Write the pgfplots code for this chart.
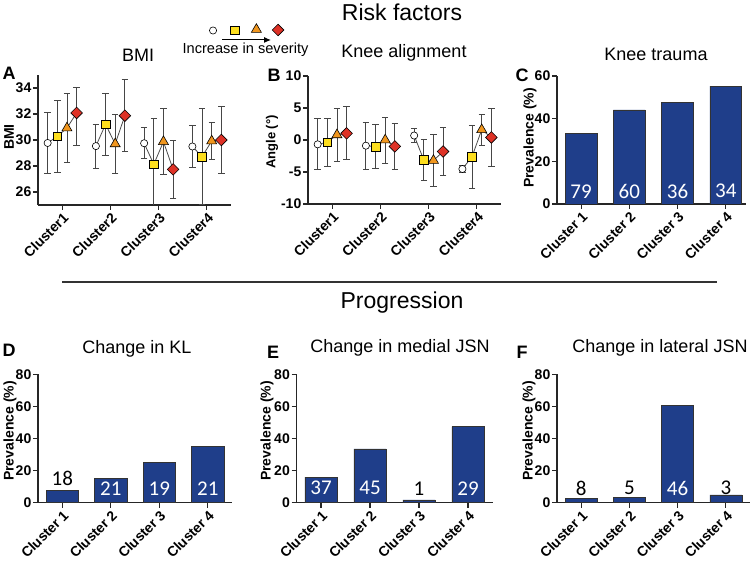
\documentclass[border=0pt]{standalone}
\usepackage{fontspec}
\setmainfont{Liberation Sans}
\newfontfamily\numfont{Carlito}
\usepackage{pgfplots}
\pgfplotsset{compat=1.18}
\usetikzlibrary{arrows.meta}
\definecolor{barblue}{RGB}{31,62,138}
\definecolor{sqyellow}{RGB}{253,222,30}
\definecolor{triorange}{RGB}{240,150,30}
\definecolor{dired}{RGB}{222,50,38}
\definecolor{errgray}{RGB}{70,70,70}
\newcommand{\fs}[1]{\fontsize{#1}{#1}\selectfont}

\pgfplotsset{
  panel/.style={
    scale only axis, anchor=south west,
    axis lines=left,
    axis line style={-, line width=1.3pt, black!85},
    tick align=outside, major tick length=5pt,
    xtick pos=bottom, ytick pos=left,
    tick style={line width=1.1pt, black!85},
    xtick={1,2,3,4}, xmin=0.5, xmax=4.5,
    /pgf/number format/assume math mode=true,
    ticklabel style={font=\bfseries\fs{14}},
    xticklabel style={rotate=45, anchor=north east, inner sep=1pt},
    yticklabel style={inner sep=1.5pt},
  },
  scat/.style={panel, xticklabels={Cluster1,Cluster2,Cluster3,Cluster4}},
  eb/.style={
    error bars/y dir=both, error bars/y explicit,
    error bars/error bar style={errgray, line width=0.9pt},
    error bars/error mark options={rotate=90, mark size=3.2pt, line width=0.9pt, errgray}},
  barp/.style={panel, xticklabels={Cluster 1,Cluster 2,Cluster 3,Cluster 4}, ymin=0},
  bars/.style={ybar, bar width=0.66, fill=barblue, draw=black!80, line width=0.5pt},
  lab/.style={draw=none, mark=none, nodes near coords={\pgfplotspointmeta},
    point meta=explicit symbolic,
    every node near coord/.style={anchor=center, font=\numfont\fs{21}, text=#1}},
  sev0/.style={only marks, mark=*, mark size=3.6pt, mark options={fill=white, draw=black, line width=0.6pt}},
  sev1/.style={only marks, mark=square*, mark size=4.3pt, mark options={fill=sqyellow, draw=black, line width=0.6pt}},
  sev2/.style={only marks, mark=triangle*, mark size=5.8pt, mark options={fill=triorange, draw=black, line width=0.6pt}},
  sev3/.style={only marks, mark=square*, mark size=4.1pt, mark options={rotate=45, fill=dired, draw=black, line width=0.6pt}},
  conn/.style={black!70, line width=0.8pt, mark=none},
}

\begin{document}
\begin{tikzpicture}
\path[use as bounding box] (0,0) rectangle (755pt,561pt);

%% A: BMI
\begin{axis}[scat, at={(38pt,356pt)}, width=193pt, height=130pt,
  ymin=25, ymax=35, ytick={26,28,30,32,34}]
\addplot[conn] coordinates {(0.7,29.77)(0.9,30.28)(1.1,30.92)(1.3,32.08)};
\addplot[conn] coordinates {(1.7,29.53)(1.9,31.2)(2.1,29.7)(2.3,31.87)};
\addplot[conn] coordinates {(2.7,29.75)(2.9,28.13)(3.1,29.87)(3.3,27.74)};
\addplot[conn] coordinates {(3.7,29.5)(3.9,28.72)(4.1,29.92)(4.3,30.0)};
\addplot[sev0, eb] coordinates {(0.7,29.77) +- (0,2.38) (1.7,29.53) +- (0,1.7) (2.7,29.75) +- (0,1.2) (3.7,29.5) +- (0,1.6)};
\addplot[sev1, eb] coordinates {(0.9,30.28) +- (0,2.8) (1.9,31.2) +- (0,2.4) (2.9,28.13) +- (0,3.5) (3.9,28.72) +- (0,3.7)};
\addplot[sev2, eb] coordinates {(1.1,30.92) +- (0,2.65) (2.1,29.7) +- (0,2.25) (3.1,29.87) +- (0,2.55) (4.1,29.92) +- (0,1.45)};
\addplot[sev3, eb] coordinates {(1.3,32.08) += (0,2.0) -= (0,2.5) (2.3,31.87) +- (0,2.75) (3.3,27.74) +- (0,2.2) (4.3,30.0) +- (0,2.55)};
\end{axis}

%% B: knee alignment
\begin{axis}[scat, at={(308pt,357pt)}, width=193pt, height=128pt,
  ymin=-10, ymax=10, ytick={-10,-5,0,5,10}]
\addplot[conn] coordinates {(0.7,-0.68)(0.9,-0.36)(1.1,0.8)(1.3,1.04)};
\addplot[conn] coordinates {(1.7,-0.89)(1.9,-1.04)(2.1,0.0)(2.3,-1.0)};
\addplot[conn] coordinates {(2.7,0.7)(2.9,-3.13)(3.1,-3.2)(3.3,-1.8)};
\addplot[conn] coordinates {(3.7,-4.53)(3.9,-2.6)(4.1,1.6)(4.3,0.4)};
\addplot[sev0, eb] coordinates {(0.7,-0.68) +- (0,4.0) (1.7,-0.89) +- (0,3.65) (2.7,0.7) +- (0,1.15) (3.7,-4.53) +- (0,0.6)};
\addplot[sev1, eb] coordinates {(0.9,-0.36) +- (0,3.8) (1.9,-1.04) +- (0,3.4) (2.9,-3.13) +- (0,3.2) (3.9,-2.6) +- (0,4.9)};
\addplot[sev2, eb] coordinates {(1.1,0.8) +- (0,4.2) (2.1,0.0) +- (0,3.6) (3.1,-3.2) +- (0,4.1) (4.1,1.6) +- (0,2.45)};
\addplot[sev3, eb] coordinates {(1.3,1.04) +- (0,4.15) (2.3,-1.0) +- (0,3.6) (3.3,-1.8) +- (0,3.8) (4.3,0.4) +- (0,4.5)};
\end{axis}

%% C: knee trauma
\begin{axis}[barp, at={(557pt,357pt)}, width=189pt, height=128pt,
  xmax=4.42, ymax=60, ytick={0,20,40,60}]
\addplot[bars] coordinates {(1,33.0)(2,44.1)(3,47.7)(4,55.3)};
\addplot[lab=white] coordinates {(1,6)[79] (2,6)[60] (3,6)[36] (4,6)[34]};
\end{axis}

%% D: change in KL
\begin{axis}[barp, at={(38pt,58.3pt)}, width=194pt, height=128.4pt,
  ymax=80, ytick={0,20,40,60,80}]
\addplot[bars] coordinates {(1,7.5)(2,15.0)(3,24.9)(4,35.1)};
\addplot[lab=black] coordinates {(1,15.4)[18]};
\addplot[lab=white] coordinates {(2,9)[21] (3,9)[19] (4,9)[21]};
\end{axis}

%% E: change in medial JSN
\begin{axis}[barp, at={(296.5pt,58.3pt)}, width=196pt, height=128.4pt,
  ymax=80, ytick={0,20,40,60,80}]
\addplot[bars] coordinates {(1,16.0)(2,33.5)(3,1.7)(4,47.4)};
\addplot[lab=white] coordinates {(1,9)[37] (2,9)[45] (4,9)[29]};
\addplot[lab=black] coordinates {(3,8.5)[1]};
\end{axis}

%% F: change in lateral JSN
\begin{axis}[barp, at={(557pt,58.3pt)}, width=193pt, height=128.4pt,
  ymax=80, ytick={0,20,40,60,80}]
\addplot[bars] coordinates {(1,2.9)(2,3.5)(3,60.7)(4,4.8)};
\addplot[lab=black] coordinates {(1,9)[8] (2,9)[5] (4,9)[3]};
\addplot[lab=white] coordinates {(3,9)[46]};
\end{axis}

%% severity key
\begin{axis}[scale only axis, hide axis, anchor=west, at={(202.2pt,530.5pt)},
  width=86.7pt, height=20pt, xmin=0, xmax=4, ymin=-1, ymax=1, clip=false]
\addplot[sev0] coordinates {(0.5,0)};
\addplot[sev1] coordinates {(1.5,0)};
\addplot[sev2] coordinates {(2.5,0.1)};
\addplot[sev3] coordinates {(3.5,0.05)};
\end{axis}
\draw[-{Latex[length=7pt,width=6pt]}, line width=1pt] (222pt,521pt) -- (271pt,521pt);
\node[font=\fs{14.6}] at (245.5pt,511pt) {Increase in severity};

%% headings
\node[font=\fs{23}] at (402pt,549pt) {Risk factors};
\node[font=\fs{23}] at (402pt,258pt) {Progression};
\draw[line width=2pt, black!80] (62pt,279pt) -- (717pt,279pt);

\node[font=\fs{18}] at (138pt,506pt) {BMI};
\node[font=\fs{18}] at (404pt,508pt) {Knee alignment};
\node[font=\fs{18}] at (656pt,507pt) {Knee trauma};
\node[font=\fs{18}] at (137pt,212pt) {Change in KL};
\node[font=\fs{18}] at (400pt,213pt) {Change in medial JSN};
\node[font=\fs{18}] at (660pt,213pt) {Change in lateral JSN};

\node[font=\bfseries\fs{18}] at (9pt,488pt) {A};
\node[font=\bfseries\fs{18}] at (274pt,486pt) {B};
\node[font=\bfseries\fs{18}] at (522pt,486pt) {C};
\node[font=\bfseries\fs{18}] at (9pt,211pt) {D};
\node[font=\bfseries\fs{18}] at (273pt,209pt) {E};
\node[font=\bfseries\fs{18}] at (522pt,209pt) {F};

\node[font=\bfseries\fs{14}, rotate=90] at (9pt,424pt) {BMI};
\node[font=\bfseries\fs{13}, rotate=90] at (272pt,419pt) {Angle (°)};
\node[font=\bfseries\fs{14}, rotate=90] at (530pt,423pt) {Prevalence (\%)};
\node[font=\bfseries\fs{14}, rotate=90] at (10pt,130pt) {Prevalence (\%)};
\node[font=\bfseries\fs{14}, rotate=90] at (267pt,130pt) {Prevalence (\%)};
\node[font=\bfseries\fs{14}, rotate=90] at (529pt,130pt) {Prevalence (\%)};
\end{tikzpicture}
\end{document}
